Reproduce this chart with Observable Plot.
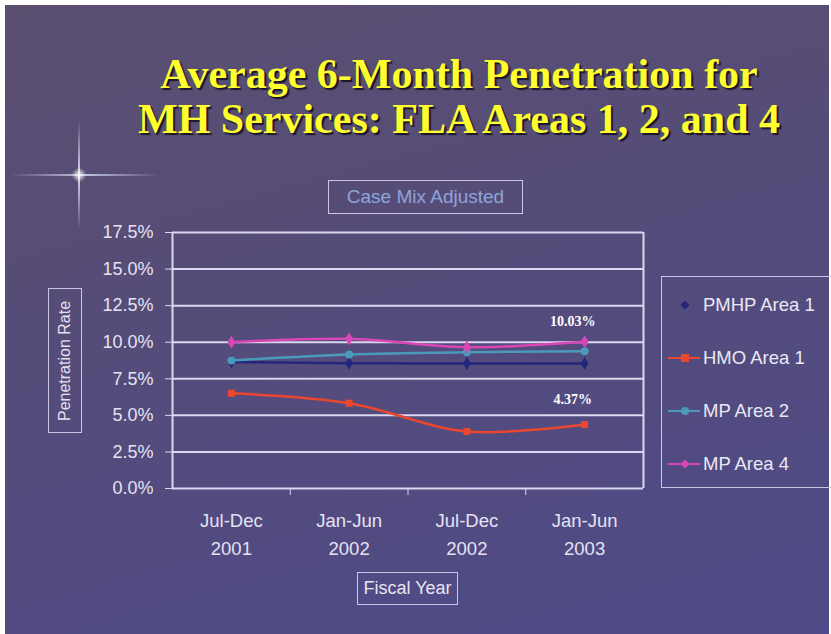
<!DOCTYPE html>
<html>
<head>
<meta charset="utf-8">
<script src="https://cdn.jsdelivr.net/npm/d3@7"></script>
<script src="https://cdn.jsdelivr.net/npm/@observablehq/plot@0.6"></script>
<style>
  html, body { margin: 0; padding: 0; background: #ffffff; }
  #stage { position: relative; width: 831px; height: 634px; overflow: hidden; background: #ffffff; font-family: "Liberation Sans", Arial, sans-serif; }
  #bg { position: absolute; left: 5px; top: 5px; right: 2px; bottom: 0; background: linear-gradient(165deg, #5b4f70 0%, #554c78 40%, #514b82 75%, #4e4b88 100%); }
  .title { position: absolute; left: 459px; transform: translateX(-50%); white-space: nowrap; font-family: "Liberation Serif", "Times New Roman", serif; font-weight: bold; font-size: 42px; color: #ffff2e; text-shadow: 2px 2px 1px #1a1628; line-height: 45px; text-align: center; }
  .box { position: absolute; border: 1.5px solid #cbc6e4; box-sizing: border-box; }
  #caseMix { left: 328px; top: 180px; width: 195px; height: 34px; color: #8ea4dc; font-size: 19px; text-align: center; line-height: 31px; }
  #ylab { left: 48px; top: 288px; width: 34px; height: 145px; }
  #ylab span { position: absolute; left: 50%; top: 50%; transform: translate(-50%, -50%) rotate(-90deg); white-space: nowrap; color: #e4e0f0; font-size: 16px; }
  #xlab { left: 357px; top: 572px; width: 101px; height: 33px; color: #e8e4f2; font-size: 18px; text-align: center; line-height: 30px; }
  #legend { left: 661px; top: 276px; width: 190px; height: 212px; }
  .item { position: absolute; left: 0; height: 24px; width: 200px; }
  .item .sw { position: absolute; left: 6px; top: 11px; width: 32px; height: 2px; }
  .item .mk { position: absolute; left: 19px; top: 8px; width: 8px; height: 8px; }
  .item .tx { position: absolute; left: 41px; top: 0; color: #ebe8f4; font-size: 18.5px; line-height: 24px; white-space: nowrap; }
  #plot { position: absolute; left: 0; top: 200px; }
  .star-h { position: absolute; left: 10px; top: 174px; width: 150px; height: 2px; background: linear-gradient(90deg, rgba(255,255,255,0) 0%, rgba(220,225,255,0.8) 50%, rgba(255,255,255,0) 100%); }
  .star-v { position: absolute; left: 78px; top: 120px; width: 2px; height: 110px; background: linear-gradient(180deg, rgba(255,255,255,0) 0%, rgba(230,235,255,0.9) 50%, rgba(255,255,255,0) 100%); }
  .star-c { position: absolute; left: 71px; top: 168px; width: 16px; height: 14px; border-radius: 50%; background: radial-gradient(circle, rgba(255,255,255,0.95) 0%, rgba(255,255,255,0) 70%); }
</style>
</head>
<body>
<div id="stage">
  <div id="bg"></div>
  <div class="star-h"></div>
  <div class="star-v"></div>
  <div class="star-c"></div>
  <div class="title" style="top:52px">Average 6-Month Penetration for</div>
  <div class="title" style="top:97px">MH Services: FLA Areas 1, 2, and 4</div>
  <div class="box" id="caseMix">Case Mix Adjusted</div>
  <div class="box" id="ylab"><span>Penetration Rate</span></div>
  <div class="box" id="xlab">Fiscal Year</div>
  <div class="box" id="legend"></div>
  <div id="plot"></div>
</div>
<script>
// ---- data ----
const periods = ["Jul-Dec\n2001", "Jan-Jun\n2002", "Jul-Dec\n2002", "Jan-Jun\n2003"];
const seriesNames = ["PMHP Area 1", "HMO Area 1", "MP Area 2", "MP Area 4"];
const pmhpArea1 = [8.65, 8.57, 8.55, 8.55];
const hmoArea1 = [6.51, 5.83, 3.90, 4.37];
const mpArea2 = [8.75, 9.16, 9.32, 9.39];
const mpArea4 = [10.00, 10.23, 9.66, 10.03];
const yTicks = [0, 2.5, 5, 7.5, 10, 12.5, 15, 17.5];
const seriesColors = ["#25257c", "#ea4630", "#4c9aba", "#d946b6"];
const seriesSymbols = ["diamond", "square", "circle", "diamond"];
const annotSeries = ["MP Area 4", "HMO Area 1"];
const annotLabels = ["10.03%", "4.37%"];

const seriesValues = [pmhpArea1, hmoArea1, mpArea2, mpArea4];
const rows = seriesNames.flatMap((s, k) => seriesValues[k].map((v, i) => ({series: s, i, v})));
const annots = annotSeries.map((s, j) => {
  const k = seriesNames.indexOf(s);
  const vals = seriesValues[k];
  return {series: s, i: vals.length - 1, v: vals[vals.length - 1], label: annotLabels[j]};
});

const light = "#dcd7f0";
const xPos = d => d.i + 0.5;
const annotStyle = {x: xPos, y: "v", text: "label", dx: -12, fill: "#ffffff", fontFamily: "Liberation Serif, Times New Roman, serif", fontWeight: "bold", fontSize: 14};

const chart = Plot.plot({
  width: 660,
  height: 380,
  marginLeft: 172,
  marginRight: 17,
  marginTop: 32,
  marginBottom: 92,
  style: {background: "transparent", color: "#e6e2f2", fontFamily: "Liberation Sans, Arial, sans-serif", fontSize: "18px", overflow: "visible"},
  x: {domain: [0, periods.length], axis: null},
  y: {domain: [0, 17.5], axis: null},
  color: {domain: seriesNames, range: seriesColors},
  symbol: {domain: seriesNames, range: seriesSymbols},
  marks: [
    Plot.gridY(yTicks, {stroke: light, strokeOpacity: 1, strokeWidth: 2}),
    Plot.ruleX([0, periods.length], {stroke: light, strokeOpacity: 1, strokeWidth: 2}),
    Plot.axisY({ticks: yTicks, tickFormat: d => d.toFixed(1) + "%", tickSize: 7, tickPadding: 12, label: null, stroke: light, fontSize: 18}),
    Plot.axisX({ticks: d3.range(1, periods.length), tickFormat: () => "", tickSize: 7, label: null, stroke: light}),
    Plot.axisX({ticks: periods.map((p, i) => i + 0.5), tickSize: 0, tickPadding: 19, lineHeight: 1.5, tickFormat: v => periods[Math.floor(v)], label: null, fontSize: 18.5}),
    Plot.line(rows, {x: xPos, y: "v", z: "series", stroke: "series", strokeWidth: 2.5, curve: "catmull-rom"}),
    Plot.dot(rows, {x: xPos, y: "v", fill: "series", symbol: "series", r: 4}),
    Plot.text(annots.filter(d => d.series === "MP Area 4"), {...annotStyle, dy: -20}),
    Plot.text(annots.filter(d => d.series === "HMO Area 1"), {...annotStyle, dy: -25})
  ]
});
document.getElementById("plot").appendChild(chart);

// legend built from the same arrays
const legend = document.getElementById("legend");
const itemTops = [16, 69, 122, 175];
seriesNames.forEach((s, k) => {
  const it = document.createElement("div");
  it.className = "item";
  it.style.top = itemTops[k] + "px";
  const sw = document.createElement("div");
  sw.className = "sw";
  sw.style.background = k === 0 ? "transparent" : seriesColors[k];
  const mk = document.createElement("div");
  mk.className = "mk";
  mk.style.background = seriesColors[k];
  if (seriesSymbols[k] === "diamond") mk.style.transform = "rotate(45deg) scale(0.8)";
  if (seriesSymbols[k] === "circle") mk.style.borderRadius = "50%";
  const tx = document.createElement("div");
  tx.className = "tx";
  tx.textContent = s;
  it.append(sw, mk, tx);
  legend.appendChild(it);
});
</script>
</body>
</html>
